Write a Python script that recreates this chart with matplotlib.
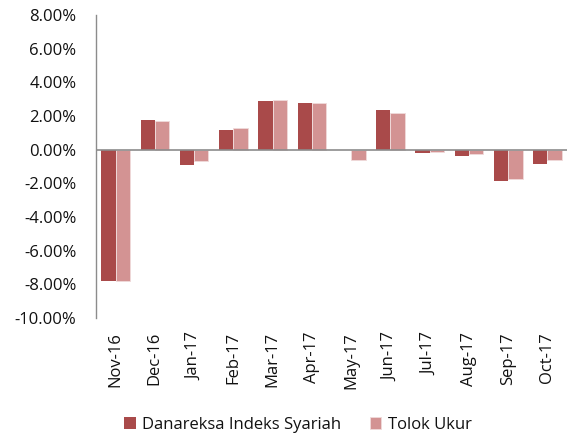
import matplotlib
matplotlib.use("Agg")
import matplotlib.pyplot as plt
import numpy as np
from matplotlib.ticker import FuncFormatter

categories = ["Nov-16", "Dec-16", "Jan-17", "Feb-17", "Mar-17", "Apr-17",
              "May-17", "Jun-17", "Jul-17", "Aug-17", "Sep-17", "Oct-17"]
danareksa = [-7.78, 1.79, -0.93, 1.19, 2.88, 2.80, 0.0, 2.38, -0.20, -0.38, -1.85, -0.83]
tolok_ukur = [-7.78, 1.71, -0.67, 1.31, 2.96, 2.78, -0.60, 2.20, -0.14, -0.26, -1.75, -0.64]
yticks = [-10, -8, -6, -4, -2, 0, 2, 4, 6, 8]

plt.rcParams['font.family'] = ['Open Sans', 'DejaVu Sans']

fig = plt.figure(figsize=(5.74, 4.37), dpi=100)
ax = fig.add_axes([0.1672, 0.2723, 0.988 - 0.1672, 0.9657 - 0.2723])

x = np.arange(len(categories))
w = 0.365
c1 = "#A94A4A"
c2 = "#D39393"
ax.bar(x - w / 2, danareksa, w, color=c1, label="Danareksa Indeks Syariah", zorder=2)
ax.bar(x + w / 2, tolok_ukur, w, color=c2, label="Tolok Ukur", zorder=2,
       edgecolor="#F0DADA", linewidth=0.6)

ax.set_xlim(-0.5, len(categories) - 0.5)
ax.set_ylim(-10, 8)
ax.set_yticks(yticks)
ax.yaxis.set_major_formatter(FuncFormatter(lambda v, p: f"{v:.2f}%"))
ax.set_xticks(x)
ax.set_xticklabels(categories, rotation=90, ha="center", va="top")

ax.axhline(0, color="#8C8C8C", linewidth=1.2, zorder=3)
for s in ["top", "right", "bottom"]:
    ax.spines[s].set_visible(False)
ax.spines["left"].set_color("#8C8C8C")
ax.spines["left"].set_linewidth(1.0)

fs = 12
ax.tick_params(axis="y", length=0, pad=14, labelsize=fs, labelcolor="#111111")
ax.tick_params(axis="x", length=0, pad=10, labelsize=fs, labelcolor="#111111")

fig.legend(loc="center", bbox_to_anchor=(298 / 574, 1 - 425 / 437), ncol=2,
           frameon=False, fontsize=fs, handlelength=0.7, handleheight=0.7,
           columnspacing=1.7, handletextpad=0.4, labelcolor="#111111")

fig.savefig("out.png", dpi=100)
